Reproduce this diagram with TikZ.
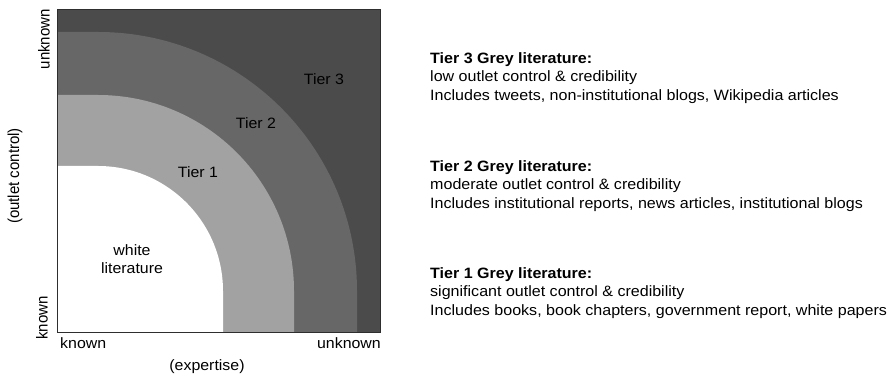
\documentclass[tikz,border=0pt]{standalone}
\usepackage{fontspec}
\setmainfont{Liberation Sans}
\begin{document}
\begin{tikzpicture}[x=1pt,y=1pt,
  lbl/.style={font=\fontsize{15}{18}\selectfont, inner sep=0pt, xscale=1.06},
  desc/.style={font=\fontsize{15}{18.7}\selectfont, align=left, anchor=north west, inner sep=0pt, xscale=1.07}]
\useasboundingbox (0,0) rectangle (894,377);
\definecolor{tthree}{HTML}{4B4B4B}
\definecolor{ttwo}{HTML}{676767}
\definecolor{tone}{HTML}{A2A2A2}
\definecolor{frame}{HTML}{2E2E2E}
% regions
\fill[tthree] (57,45) rectangle (380,368);
\fill[ttwo] (57,45) -- (57,345) -- (98,345) arc[start angle=90,end angle=0,radius=259] -- (357,45) -- cycle;
\fill[tone] (57,45) -- (57,282) -- (98,282) arc[start angle=90,end angle=0,radius=196] -- (294,45) -- cycle;
\fill[white] (57,45) -- (57,211) -- (98,211) arc[start angle=90,end angle=0,radius=125] -- (223,45) -- cycle;
\draw[frame, line width=0.8pt] (57,45) rectangle (380,368);
% labels inside
\node[lbl] (t3) at (324,298) {Tier 3};
\node[lbl] (t2) at (256,254) {Tier 2};
\node[lbl] (t1) at (198,205) {Tier 1};
\node[lbl, align=center] (wl) at (132,118) {white\\literature};
% axes
\node[lbl, anchor=west] (xk) at (60,34) {known};
\node[lbl, anchor=east] (xu) at (381,34) {unknown};
\node[lbl] (xe) at (207,10) {(expertise)};
\node[lbl, rotate=90, anchor=east] (yu) at (44,368) {unknown};
\node[lbl, rotate=90, anchor=west] (yk) at (42,37) {known};
\node[lbl, rotate=90] (yo) at (15,201) {(outlet control)};
% descriptions
\node[desc] (d3) at (430,325) {\textbf{Tier 3 Grey literature:}\\low outlet control \& credibility\\Includes tweets, non-institutional blogs, Wikipedia articles};
\node[desc] (d2) at (430,217) {\textbf{Tier 2 Grey literature:}\\moderate outlet control \& credibility\\Includes institutional reports, news articles, institutional blogs};
\node[desc] (d1) at (430,110) {\textbf{Tier 1 Grey literature:}\\significant outlet control \& credibility\\Includes books, book chapters, government report, white papers};
\end{tikzpicture}
\end{document}
